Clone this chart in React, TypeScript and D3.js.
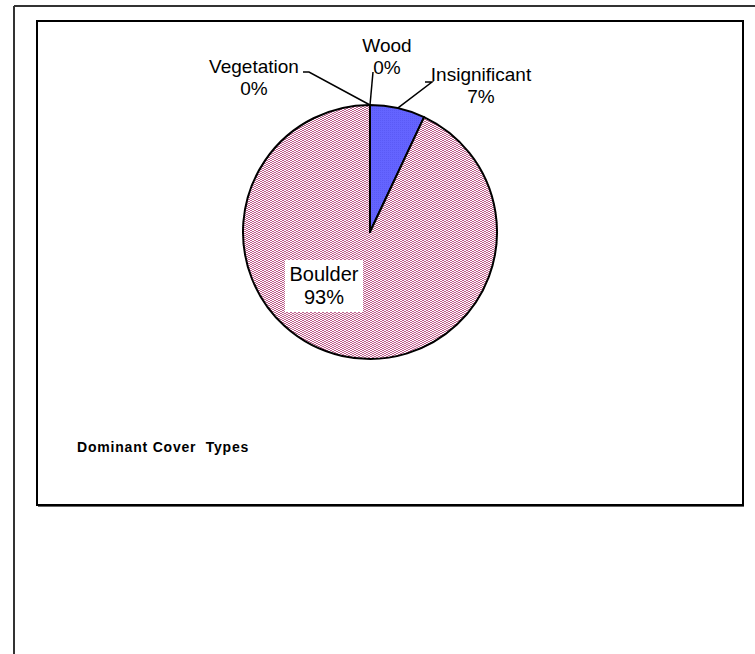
import React from "react";
import * as d3 from "d3";

const categories = ["Insignificant", "Boulder", "Vegetation", "Wood"];
const values = [7, 93, 0, 0];
const percentLabels = ["7%", "93%", "0%", "0%"];
const title = "Dominant Cover  Types";

const W = 755;
const H = 654;
const cx = 370;
const cy = 232;
const R = 127;

// label placement (text anchor centers, relative to pie center) and leader elbows
const labelPos: Record<string, { dx: number; dy: number; elbow?: [number, number][] }> = {
  Insignificant: { dx: 111, dy: -151, elbow: [[62, -150], [55, -150]] },
  Boulder: { dx: -46, dy: 49 },
  Vegetation: { dx: -116, dy: -159, elbow: [[-61, -160], [-67, -160]] },
  Wood: { dx: 17, dy: -180, elbow: [[3, -160]] },
};

export default function App() {
  const data = categories.map((c, i) => ({ c, v: values[i], p: percentLabels[i] }));
  const pie = d3.pie<any>().value((d) => d.v).sort(null).startAngle(0).endAngle(2 * Math.PI);
  const arcs = pie(data);
  const arc = d3.arc<any>().innerRadius(0).outerRadius(R);
  const colors: Record<string, string> = {
    Insignificant: "url(#bluePat)",
    Boulder: "url(#pinkPat)",
    Vegetation: "#999",
    Wood: "#999",
  };
  const font = "'Liberation Sans', Arial, sans-serif";
  const pinkCells: [number, number][] = [
    [0, 0], [1, 0], [3, 1], [2, 1], [1, 2], [0, 2], [2, 3], [3, 3],
  ];

  return (
    <svg width={W} height={H} style={{ position: "absolute", left: 0, top: 0, background: "#fff" }}>
      <defs>
        <pattern id="pinkPat" width={4} height={4} patternUnits="userSpaceOnUse">
          <rect width={4} height={4} fill="#fff" />
          {pinkCells.map(([x, y], i) => (
            <rect key={i} x={x} y={y} width={1} height={1} fill="#bf5f8c" />
          ))}
        </pattern>
        <pattern id="bluePat" width={2} height={2} patternUnits="userSpaceOnUse">
          <rect width={2} height={2} fill="#6464ff" />
          <rect x={0} y={0} width={1} height={1} fill="#5a5af5" />
        </pattern>
      </defs>
      {/* outer frame */}
      <line x1={14} y1={6} x2={W} y2={6} stroke="#333" strokeWidth={2} />
      <line x1={14} y1={6} x2={14} y2={H} stroke="#333" strokeWidth={2} />
      {/* chart area frame */}
      <rect x={37} y={21} width={706} height={484} fill="#fff" stroke="#000" strokeWidth={2} />
      <line x1={38} y1={506.5} x2={744} y2={506.5} stroke="#666" strokeWidth={1} />

      <g transform={`translate(${cx},${cy})`}>
        {arcs.map((a, i) => (
          <path key={i} d={arc(a) || ""} fill={colors[a.data.c]} stroke="#000" strokeWidth={2} strokeLinejoin="round" />
        ))}
        {arcs.map((a, i) => {
          const lp = labelPos[a.data.c];
          if (!lp.elbow) return null;
          const mid = (a.startAngle + a.endAngle) / 2;
          const px = Math.sin(mid) * R;
          const py = -Math.cos(mid) * R;
          const pts: [number, number][] = [[px, py], ...lp.elbow];
          return (
            <polyline key={"l" + i} points={pts.map((p) => p.join(",")).join(" ")} fill="none" stroke="#000" strokeWidth={1.5} />
          );
        })}
        {arcs.map((a, i) => {
          const lp = labelPos[a.data.c];
          const isB = a.data.c === "Boulder";
          return (
            <g key={"t" + i} transform={`translate(${lp.dx},${lp.dy})`}>
              {isB && <rect x={-39} y={-21} width={78} height={52} fill="#fff" />}
              <text textAnchor="middle" fontFamily={font} fontSize={isB ? 20 : 19} fill="#000">
                <tspan x={0} y={0}>{a.data.c}</tspan>
                <tspan x={0} y={isB ? 23 : 22}>{a.data.p}</tspan>
              </text>
            </g>
          );
        })}
      </g>
      <text x={77} y={452} fontFamily={font} fontSize={14} fontWeight="bold" letterSpacing={0.8} fill="#000" style={{ whiteSpace: "pre" }}>
        {title}
      </text>
    </svg>
  );
}
